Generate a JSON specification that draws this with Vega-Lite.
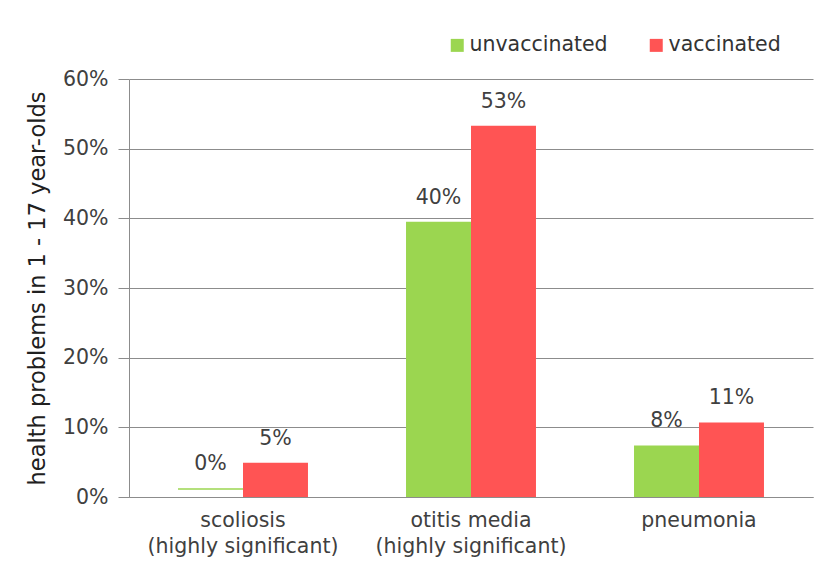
{
  "$schema": "https://vega.github.io/schema/vega-lite/v6.json",
  "width": 684,
  "height": 418,
  "autosize": {"type": "none"},
  "padding": {"left": 129, "top": 79, "right": 7, "bottom": 72},
  "background": "white",
  "config": {"font": "DejaVu Sans", "view": {"stroke": null}},
  "data": {
    "values": [
      {"condition": "scoliosis\n(highly significant)", "group": "unvaccinated", "value": 0.0125, "base": 0.0105, "label": "0%"},
      {"condition": "scoliosis\n(highly significant)", "group": "vaccinated", "value": 0.049, "base": 0, "label": "5%"},
      {"condition": "otitis media\n(highly significant)", "group": "unvaccinated", "value": 0.395, "base": 0, "label": "40%"},
      {"condition": "otitis media\n(highly significant)", "group": "vaccinated", "value": 0.533, "base": 0, "label": "53%"},
      {"condition": "pneumonia", "group": "unvaccinated", "value": 0.074, "base": 0, "label": "8%"},
      {"condition": "pneumonia", "group": "vaccinated", "value": 0.107, "base": 0, "label": "11%"}
    ]
  },
  "encoding": {
    "x": {
      "field": "condition",
      "type": "nominal",
      "sort": null,
      "scale": {"paddingInner": 0.43, "paddingOuter": 0.215},
      "axis": {
        "title": null,
        "labelAngle": 0,
        "labelExpr": "split(datum.label, '\\n')",
        "labelFontSize": 20.5,
        "labelColor": "#404040",
        "labelLineHeight": 26,
        "labelBaseline": "top",
        "labelPadding": 13,
        "labelLimit": 0,
        "ticks": false,
        "domainColor": "#8c8c8c",
        "grid": false
      }
    },
    "xOffset": {
      "field": "group",
      "type": "nominal",
      "sort": ["unvaccinated", "vaccinated"],
      "scale": {"paddingInner": 0, "paddingOuter": 0}
    },
    "y": {
      "field": "value",
      "type": "quantitative",
      "scale": {"domain": [0, 0.6], "nice": false},
      "axis": {
        "title": "health problems in 1 - 17 year-olds",
        "format": ".0%",
        "values": [0, 0.1, 0.2, 0.3, 0.4, 0.5, 0.6],
        "labelFontSize": 20.5,
        "labelColor": "#404040",
        "titleFontSize": 22.5,
        "titleFontWeight": "normal",
        "titleColor": "#202020",
        "tickSize": 11,
        "labelPadding": 10,
        "titlePadding": 13,
        "gridColor": "#8c8c8c",
        "domainColor": "#8c8c8c",
        "tickColor": "#8c8c8c"
      }
    }
  },
  "layer": [
    {
      "mark": {"type": "bar"},
      "encoding": {
        "y2": {"field": "base"},
        "color": {
          "field": "group",
          "type": "nominal",
          "scale": {"domain": ["unvaccinated", "vaccinated"], "range": ["#9bd650", "#ff5454"]},
          "legend": {
            "orient": "none",
            "legendX": 318,
            "legendY": -44,
            "direction": "horizontal",
            "title": null,
            "symbolType": "square",
            "symbolSize": 169,
            "symbolStrokeWidth": 0,
            "labelFontSize": 20.5,
            "labelColor": "#333333",
            "columnPadding": 38,
            "labelOffset": 2
          }
        }
      }
    },
    {
      "mark": {"type": "text", "dy": -14, "baseline": "bottom", "fontSize": 20.5, "color": "#404040"},
      "encoding": {"text": {"field": "label"}}
    }
  ]
}
